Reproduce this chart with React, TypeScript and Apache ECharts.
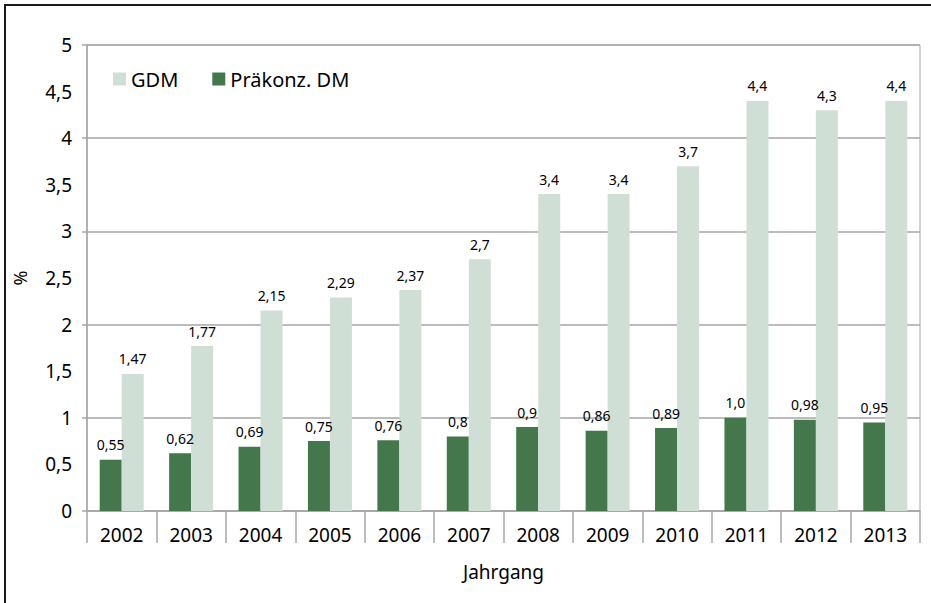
import React, { useEffect, useRef } from "react";
import * as echarts from "echarts";

const years = ["2002", "2003", "2004", "2005", "2006", "2007", "2008", "2009", "2010", "2011", "2012", "2013"];
const dmValues = [0.55, 0.62, 0.69, 0.75, 0.76, 0.8, 0.9, 0.86, 0.89, 1.0, 0.98, 0.95];
const dmLabels = ["0,55", "0,62", "0,69", "0,75", "0,76", "0,8", "0,9", "0,86", "0,89", "1,0", "0,98", "0,95"];
const gdmValues = [1.47, 1.77, 2.15, 2.29, 2.37, 2.7, 3.4, 3.4, 3.7, 4.4, 4.3, 4.4];
const gdmLabels = ["1,47", "1,77", "2,15", "2,29", "2,37", "2,7", "3,4", "3,4", "3,7", "4,4", "4,3", "4,4"];

const FONT = "Noto Sans";
const DARK = "#44774b";
const LIGHT = "#d0dfd5";
const GRAY = "#a6a6a6";

export default function App() {
  const ref = useRef<HTMLDivElement>(null);
  useEffect(() => {
    if (!ref.current) return;
    const chart = echarts.init(ref.current, null, { renderer: "svg" });
    chart.setOption({
      animation: false,
      textStyle: { fontFamily: FONT, color: "#000" },
      graphic: [
        {
          type: "rect",
          shape: { x: 5, y: 5, width: 1000, height: 1000 },
          style: { fill: "none", stroke: "#1a1a1a", lineWidth: 2 },
          silent: true,
        },
      ],
      legend: {
        data: ["GDM", "Präkonz. DM"],
        left: 108,
        top: 64,
        itemWidth: 13,
        itemHeight: 13,
        itemGap: 34,
        icon: "rect",
        textStyle: { fontFamily: FONT, fontSize: 20, color: "#000" },
      },
      grid: {
        left: 87,
        right: 11,
        top: 45,
        height: 466,
        show: true,
        borderColor: GRAY,
        borderWidth: 1,
        containLabel: false,
      },
      xAxis: {
        type: "category",
        data: years,
        boundaryGap: true,
        axisLine: { lineStyle: { color: GRAY, width: 1.5 } },
        axisTick: { show: true, interval: 0, length: 32, lineStyle: { color: GRAY, width: 1.5 } },
        axisLabel: { interval: 0, fontSize: 19, color: "#000", margin: 14, fontFamily: FONT },
        name: "Jahrgang",
        nameLocation: "middle",
        nameGap: 51,
        nameTextStyle: { fontSize: 19, color: "#000", fontFamily: FONT },
      },
      yAxis: [
        {
          type: "value",
          min: 0,
          max: 5,
          interval: 0.5,
          position: "left",
          axisLine: { show: true, lineStyle: { color: GRAY, width: 1.5 } },
          axisTick: { show: false },
          splitLine: { show: false },
          axisLabel: {
            fontSize: 19,
            color: "#000",
            margin: 15,
            fontFamily: FONT,
            formatter: (v: number) => String(v).replace(".", ","),
          },
          name: "%",
          nameLocation: "middle",
          nameGap: 58,
          nameRotate: 90,
          nameTextStyle: { fontSize: 18, color: "#000", fontFamily: FONT },
        },
        {
          type: "value",
          min: 0,
          max: 5,
          interval: 1,
          position: "left",
          axisLine: { show: false },
          axisTick: { show: true, inside: false, length: 5, lineStyle: { color: GRAY, width: 1.5 } },
          axisLabel: { show: false },
          splitLine: { show: true, lineStyle: { color: GRAY, width: 1.5 } },
        },
      ],
      series: [
        {
          name: "Präkonz. DM",
          type: "bar",
          yAxisIndex: 0,
          data: dmValues,
          barWidth: 22,
          barGap: "0%",
          itemStyle: { color: DARK },
          label: {
            show: true,
            position: "top",
            distance: 8,
            fontSize: 14,
            color: "#000",
            fontFamily: FONT,
            formatter: (p: any) => dmLabels[p.dataIndex],
          },
        },
        {
          name: "GDM",
          type: "bar",
          yAxisIndex: 0,
          data: gdmValues,
          barWidth: 22,
          barGap: "0%",
          itemStyle: { color: LIGHT },
          label: {
            show: true,
            position: "top",
            distance: 8,
            fontSize: 14,
            color: "#000",
            fontFamily: FONT,
            formatter: (p: any) => gdmLabels[p.dataIndex],
          },
        },
      ],
    });
    return () => chart.dispose();
  }, []);
  return (
    <div
      ref={ref}
      style={{ position: "absolute", left: 0, top: 0, width: 931, height: 603, background: "#fff" }}
    />
  );
}
